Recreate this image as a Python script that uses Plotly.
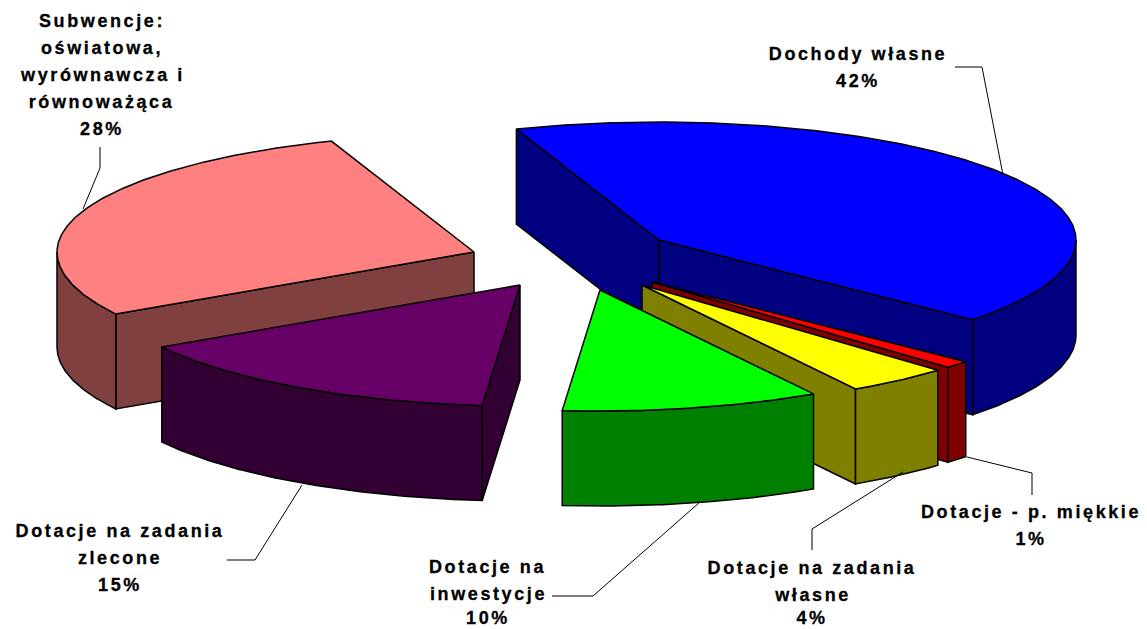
import numpy as np
import plotly.graph_objects as go

# --- data ---
categories = ["Dochody własne", "Dotacje - p. miękkie", "Dotacje na zadania własne",
              "Dotacje na inwestycje", "Dotacje na zadania zlecone",
              "Subwencje: oświatowa, wyrównawcza i równoważąca"]
values = [42, 1, 4, 10, 15, 28]

# --- styling / layout ---
top_colors = ["#0000ff", "#ff0000", "#ffff00", "#00ff00", "#660066", "#ff8080"]
side_colors = ["#000080", "#800000", "#808000", "#008000", "#330033", "#804040"]
centres = [(659, 240), (652, 282), (642, 285), (600, 290), (520, 285), (474, 252)]
draw_order = [0, 1, 2, 5, 4, 3]
RX, RY_BACK, RY_FRONT, DEPTH = 417, 118, 121, 95
START_ANGLE = 110
FONT = dict(family="Liberation Sans, Arial, sans-serif", size=18, color="#000000")

label_lines = [
    (["Dochody własne", "42%"], 858, [54, 81]),
    (["Dotacje - p. miękkie", "1%"], 1031, [512, 539]),
    (["Dotacje na zadania", "własne", "4%"], 812, [568, 595, 618]),
    (["Dotacje na", "inwestycje", "10%"], 488, [567, 594, 618]),
    (["Dotacje na zadania", "zlecone", "15%"], 120, [531, 558, 585]),
    (["Subwencje:", "oświatowa,", "wyrównawcza i", "równoważąca", "28%"], 102, [21, 48, 75, 102, 129]),
]
leaders = [
    [(955, 67), (982, 67), (1003, 175)],
    [(967, 457), (1032, 473), (1032, 495)],
    [(903, 472), (812, 529), (812, 550)],
    [(700, 502), (593, 596), (552, 596)],
    [(302, 485), (255, 560), (227, 560)],
    [(100, 147), (100, 168), (83, 209)],
]

fig = go.Figure()


def poly(xs, ys, color):
    fig.add_trace(go.Scatter(x=list(xs), y=list(ys), mode="lines", fill="toself",
                             fillcolor=color, line=dict(color="#000000", width=1.5),
                             hoverinfo="skip", showlegend=False))


def pt(c, deg):
    t = np.radians(deg)
    s = np.sin(t)
    return c[0] + RX * np.cos(t), c[1] - np.where(s < 0, RY_FRONT, RY_BACK) * s


# slice boundaries go clockwise from the start angle, sized by the values
total = sum(values)
bounds = START_ANGLE - np.cumsum([0] + values) * 360.0 / total

for i in draw_order:
    a0, a1 = bounds[i], bounds[i + 1]
    c = centres[i]
    mid = (a0 + a1) / 2
    mx, my = pt((0, 0), mid)
    # radial walls that face the viewer
    for a in (a0, a1):
        px, py = pt((0, 0), a)
        if px * (px * my - py * mx) < 0:
            poly([c[0], c[0] + px, c[0] + px, c[0], c[0]],
                 [c[1], c[1] + py, c[1] + py + DEPTH, c[1] + DEPTH, c[1]], side_colors[i])
    # outer curved wall (front half only)
    for lo, hi in ((-180, 0), (-540, -360)):
        s, e = max(a1, lo), min(a0, hi)
        if e > s:
            ang = np.linspace(e, s, int((e - s) * 2) + 2)
            ox, oy = pt(c, ang)
            poly(np.r_[ox, ox[::-1], ox[0]], np.r_[oy, oy[::-1] + DEPTH, oy[0]], side_colors[i])
    # top face
    ang = np.linspace(a0, a1, int((a0 - a1) * 2) + 2)
    ox, oy = pt(c, ang)
    poly(np.r_[c[0], ox, c[0]], np.r_[c[1], oy, c[1]], top_colors[i])

for seg in leaders:
    fig.add_trace(go.Scatter(x=[p[0] for p in seg], y=[p[1] for p in seg], mode="lines",
                             line=dict(color="#000000", width=1), hoverinfo="skip", showlegend=False))

for lines, cx, ys in label_lines:
    for text, y in zip(lines, ys):
        fig.add_annotation(x=cx, y=y, text=f"<b>{text}</b>", showarrow=False, font=FONT,
                           xanchor="center", yanchor="middle", xref="x", yref="y")

fig.update_layout(width=1147, height=629, margin=dict(l=0, r=0, t=0, b=0),
                  paper_bgcolor="#ffffff", plot_bgcolor="#ffffff",
                  xaxis=dict(range=[0, 1147], visible=False, fixedrange=True),
                  yaxis=dict(range=[629, 0], visible=False, fixedrange=True))
post = """
document.body.style.margin = '0';
document.documentElement.style.overflow = 'hidden';
document.querySelectorAll('.annotation-text').forEach(function (t) {
  t.style.letterSpacing = '2.6px';
  t.style.stroke = '#000';
  t.style.strokeWidth = '0.3px';
});
"""
fig.write_html("out.html", config=dict(displayModeBar=False), post_script=post)
